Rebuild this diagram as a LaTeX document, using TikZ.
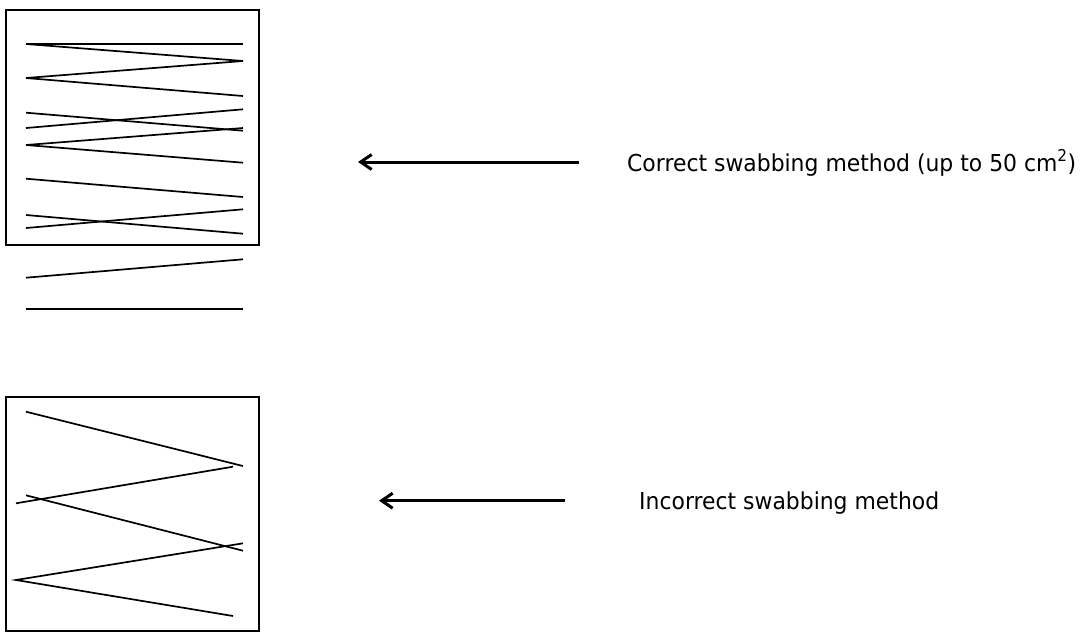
\documentclass[tikz,border=0pt]{standalone}
\usepackage{fontspec}
\setmainfont{DejaVu Sans}[FakeStretch=0.94]
\usetikzlibrary{arrows.meta}
\begin{document}
\begin{tikzpicture}[x=1pt,y=-1pt,
  stroke/.style={line width=1.7pt},
  frame/.style={line width=1.7pt},
  pointer/.style={line width=3pt,-{Straight Barb[length=11pt,width=15pt,line width=3pt]}},
  caption/.style={anchor=base west,inner sep=0pt,font=\fontsize{23.3}{27}\selectfont}]
\useasboundingbox (0,0) rectangle (1082,633);
% top box
\draw[frame] (6,10) rectangle (259,245);
\draw[stroke] (26,44) -- (243,44);
\draw[stroke] (26,44) -- (243,61) -- (26,78) -- (243,96);
\draw[stroke] (26,112.7) -- (243,130.7);
\draw[stroke] (26,128) -- (243,109.3);
\draw[stroke] (243,128) -- (26,145) -- (243,162.7);
\draw[stroke] (26,178.7) -- (243,197);
\draw[stroke] (26,215) -- (243,233.7);
\draw[stroke] (26,228) -- (243,209.3);
\draw[stroke] (26,277.7) -- (243,259.3);
\draw[stroke] (26,309.3) -- (243,309.3);
% bottom box
\draw[frame] (6,396.7) rectangle (259,630.7);
\draw[stroke] (26,411.7) -- (243,466);
\draw[stroke] (233,466.7) -- (16,503.3);
\draw[stroke] (26,495.3) -- (243,550.7);
\draw[stroke] (243,543.3) -- (16,580) -- (233,616);
% arrows and captions
\coordinate (a1s) at (579,162);
\coordinate (a1e) at (358,162);
\coordinate (a2s) at (565,500.7);
\coordinate (a2e) at (379,500.7);
\draw[pointer] (a1s) -- (a1e);
\draw[pointer] (a2s) -- (a2e);
\node[caption] (t1) at (627,171) {Correct swabbing method (up to 50 cm\textsuperscript{2})};
\node[caption] (t2) at (639,509) {Incorrect swabbing method};
\end{tikzpicture}
\end{document}
